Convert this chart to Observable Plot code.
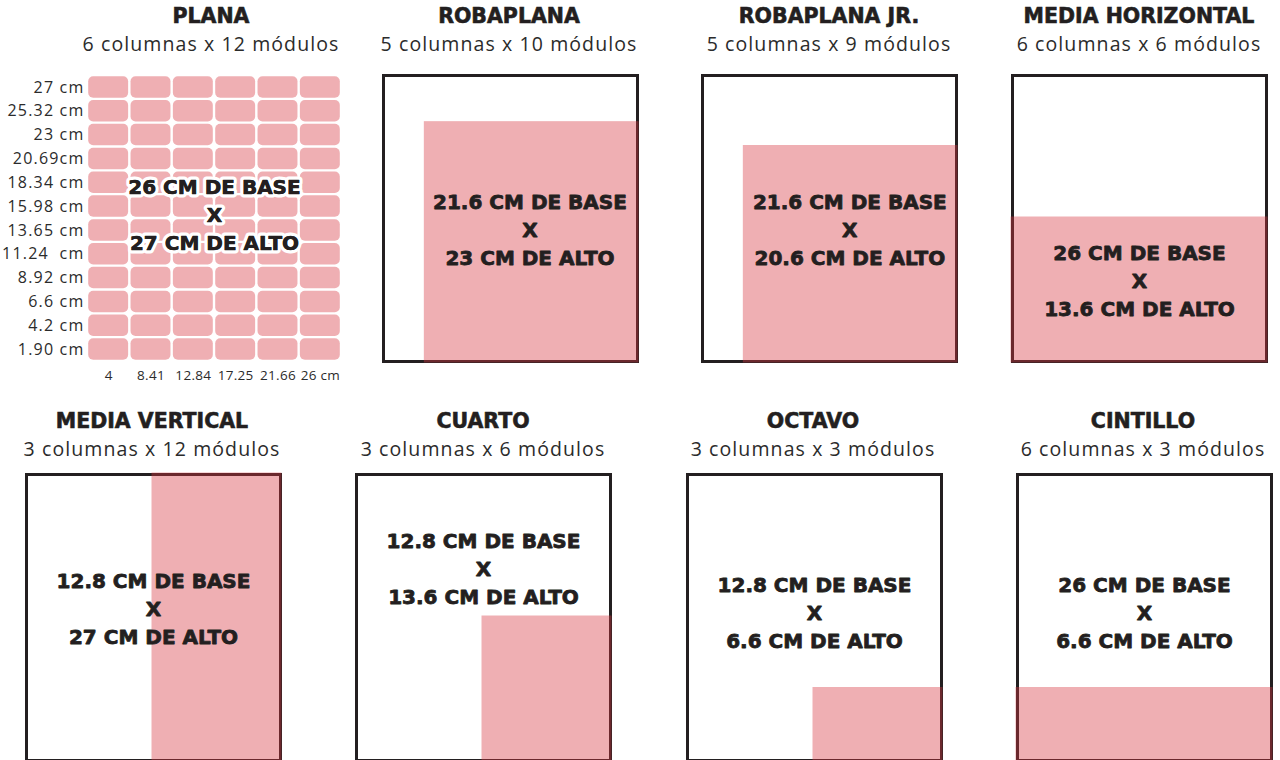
<!DOCTYPE html>
<html>
<head>
<meta charset="utf-8">
<script src="https://cdn.jsdelivr.net/npm/d3@7"></script>
<script src="https://cdn.jsdelivr.net/npm/@observablehq/plot@0.6"></script>
<style>
  html, body { margin: 0; padding: 0; background: #fff; }
  body { width: 1280px; height: 760px; overflow: hidden; position: relative; }
  .title { position: absolute; width: 340px; text-align: center; font-family: "DejaVu Sans", sans-serif; font-weight: bold; font-size: 20.5px; line-height: 24px; color: #231f20; -webkit-text-stroke: 0.6px #231f20; }
  .subtitle { position: absolute; width: 340px; text-align: center; font-family: "Open Sans", sans-serif; font-weight: 400; font-size: 19.5px; letter-spacing: 1.1px; line-height: 24px; color: #2b2b2b; }
  .plot { position: absolute; }
  .plot svg { white-space: pre; overflow: visible; }
  .plot svg g[aria-label="y-axis tick label"] { letter-spacing: 1.2px; }
  .plot svg g[aria-label="x-axis tick label"] { letter-spacing: 0.3px; }
</style>
</head>
<body>
<script>
// ---- data ----
const panelNames = ["PLANA", "ROBAPLANA", "ROBAPLANA JR.", "MEDIA HORIZONTAL", "MEDIA VERTICAL", "CUARTO", "OCTAVO", "CINTILLO"];
const columnCounts = [6, 5, 5, 6, 3, 3, 3, 6];
const moduleCounts = [12, 10, 9, 6, 12, 6, 3, 3];
const baseCm = ["26", "21.6", "21.6", "26", "12.8", "12.8", "12.8", "26"];
const altoCm = ["27", "23", "20.6", "13.6", "27", "13.6", "6.6", "6.6"];
const yTickLabels = ["27 cm", "25.32 cm", "23 cm", "20.69cm", "18.34 cm", "15.98 cm", "13.65 cm", "11.24  cm", "8.92 cm", "6.6 cm", "4.2 cm", "1.90 cm"];
const xTickLabels = ["4", "8.41", "12.84", "17.25", "21.66", "26 cm"];
const totalColumns = 6;
const totalModules = 12;

// ---- layout (page placement, not data) ----
const layout = [
  {cx: 211, left: 87, top: 75, titleTop: 4, lx: 3, ly: 6.23},
  {cx: 509, left: 383, top: 75, titleTop: 4, lx: 3.46, ly: 5.62},
  {cx: 829, left: 702, top: 75, titleTop: 4, lx: 3.48, ly: 5.62},
  {cx: 1139, left: 1012, top: 75, titleTop: 4, lx: 3, ly: 3.48},
  {cx: 152, left: 26, top: 474, titleTop: 409, lx: 3, ly: 6.42},
  {cx: 483, left: 356, top: 474, titleTop: 409, lx: 3, ly: 8.13},
  {cx: 813, left: 687, top: 474, titleTop: 409, lx: 3, ly: 6.27},
  {cx: 1143, left: 1017, top: 474, titleTop: 409, lx: 3, ly: 6.27}
];
const BOX_W = 254, BOX_H = 286, M = 4;
const INK = "#231f20";
const PINK_BASE = "rgb(214,56,66)";
const PINK_OPACITY = 0.4;
const BOLD_FONT = "DejaVu Sans";

function addText(cls, text, cx, top) {
  const d = document.createElement("div");
  d.className = cls;
  d.textContent = text;
  d.style.left = (cx - 170) + "px";
  d.style.top = top + "px";
  document.body.appendChild(d);
}

panelNames.forEach((name, i) => {
  const L = layout[i];
  addText("title", name, L.cx, L.titleTop);
  addText("subtitle", `${columnCounts[i]} columnas x ${moduleCounts[i]} módulos`, L.cx, L.titleTop + 28);

  const label = [{x: L.lx, y: L.ly, text: `${baseCm[i]} CM DE BASE\nX\n${altoCm[i]} CM DE ALTO`}];
  const labelOpts = {
    x: "x", y: "y", text: "text",
    fontFamily: BOLD_FONT, fontWeight: "bold", fontSize: 20,
    lineHeight: 1.4, fill: INK, stroke: INK, strokeWidth: 0.8
  };
  let chart, left, top;

  if (i === 0) {
    const cells = [];
    for (let c = 0; c < columnCounts[i]; c++)
      for (let r = 0; r < moduleCounts[i]; r++) cells.push({c, r});
    const mL = 87, mT = M, mR = 30, mB = 28;
    chart = Plot.plot({
      width: mL + BOX_W + mR,
      height: mT + BOX_H + mB,
      marginLeft: mL, marginTop: mT, marginRight: mR, marginBottom: mB,
      style: {fontFamily: "Open Sans", color: "#2b2b2b", background: "transparent", overflow: "visible"},
      x: {domain: [0, totalColumns]},
      y: {domain: [0, totalModules]},
      marks: [
        Plot.rect(cells, {
          x1: d => d.c, x2: d => d.c + 1, y1: d => d.r, y2: d => d.r + 1,
          fill: PINK_BASE, fillOpacity: PINK_OPACITY, inset: 1.2, rx: 5
        }),
        Plot.axisY({
          ticks: d3.range(totalModules).map(k => k + 0.5),
          tickFormat: d => yTickLabels[totalModules - 1 - Math.floor(d)],
          tickSize: 0, tickPadding: 3, fontSize: 16, fill: "#2b2b2b", label: null
        }),
        Plot.axisX({
          ticks: d3.range(totalColumns).map(k => k + 0.5),
          tickFormat: d => xTickLabels[Math.floor(d)],
          tickSize: 0, tickPadding: 9, fontSize: 13.5, fill: "#2b2b2b", label: null
        }),
        Plot.text(label, {
          x: "x", y: "y", text: "text",
          fontFamily: BOLD_FONT, fontWeight: "bold", fontSize: 20,
          lineHeight: 1.4, fill: INK, stroke: "white", strokeWidth: 7,
          strokeLinejoin: "round", paintOrder: "stroke"
        }),
        Plot.text(label, {...labelOpts, strokeWidth: 0.5})
      ]
    });
    left = L.left - mL; top = L.top - mT;
  } else {
    const piece = [{x1: totalColumns - columnCounts[i], x2: totalColumns, y1: 0, y2: moduleCounts[i]}];
    chart = Plot.plot({
      width: BOX_W + 2 * M,
      height: BOX_H + 2 * M,
      margin: M,
      style: {background: "transparent", overflow: "visible"},
      x: {domain: [0, totalColumns], axis: null},
      y: {domain: [0, totalModules], axis: null},
      marks: [
        Plot.frame({stroke: INK, strokeWidth: 3}),
        Plot.rect(piece, {
          x1: "x1", x2: "x2", y1: "y1", y2: "y2",
          fill: PINK_BASE, fillOpacity: PINK_OPACITY, inset: -1.5
        }),
        Plot.text(label, labelOpts)
      ]
    });
    left = L.left - M; top = L.top - M;
  }
  const wrap = document.createElement("div");
  wrap.className = "plot";
  wrap.style.left = left + "px";
  wrap.style.top = top + "px";
  wrap.appendChild(chart);
  document.body.appendChild(wrap);
});
</script>
</body>
</html>
